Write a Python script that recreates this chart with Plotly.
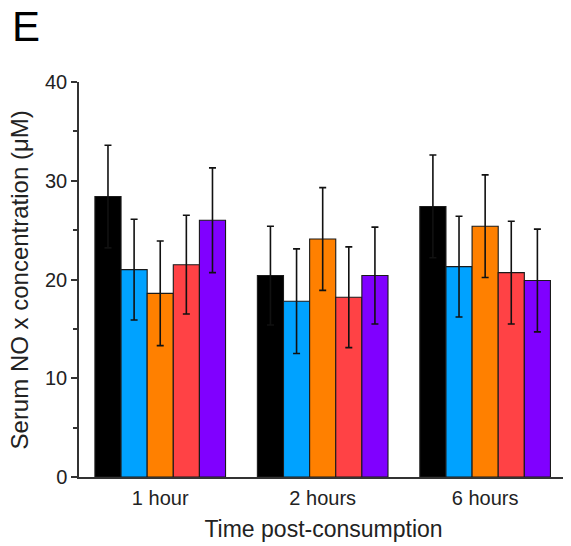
import plotly.graph_objects as go

categories = ["1 hour", "2 hours", "6 hours"]
series_names = ["Group 1", "Group 2", "Group 3", "Group 4", "Group 5"]
series_colors = ["#000000", "#00A2FF", "#FF8000", "#FF4245", "#8000FF"]

values_g1 = [28.4, 20.4, 27.4]
values_g2 = [21.0, 17.8, 21.3]
values_g3 = [18.6, 24.1, 25.4]
values_g4 = [21.5, 18.2, 20.7]
values_g5 = [26.0, 20.4, 19.9]

errors_g1 = [5.2, 5.0, 5.2]
errors_g2 = [5.1, 5.3, 5.1]
errors_g3 = [5.3, 5.2, 5.2]
errors_g4 = [5.0, 5.1, 5.2]
errors_g5 = [5.3, 4.9, 5.2]

all_values = [values_g1, values_g2, values_g3, values_g4, values_g5]
all_errors = [errors_g1, errors_g2, errors_g3, errors_g4, errors_g5]

y_ticks = [0, 10, 20, 30, 40]

FONT = "Liberation Sans, Arial, sans-serif"

fig = go.Figure()
for name, color, vals, errs in zip(series_names, series_colors, all_values, all_errors):
    fig.add_trace(go.Bar(
        x=categories, y=vals, name=name,
        marker=dict(color=color, line=dict(color="#1a1a1a", width=1.1)),
        error_y=dict(type="data", array=errs, visible=True,
                     color="#111111", thickness=1.6, width=3.5),
    ))

# page body has an 8px margin, so the figure is drawn from (8, 8)
fig.update_layout(
    width=563, height=538,
    margin=dict(l=71, r=3, t=74, b=69),
    paper_bgcolor="white", plot_bgcolor="white",
    barmode="group", bargap=0.196, bargroupgap=0,
    showlegend=False,
    font=dict(family=FONT, color="#222222"),
)

fig.update_xaxes(
    type="category", range=[-0.5, 2.51], automargin=False,
    showline=True, linecolor="#333333", linewidth=1.5,
    ticks="outside", ticklen=2, tickcolor="rgba(0,0,0,0)",
    tickfont=dict(size=20, family=FONT, color="#222222"),
    title=dict(text="Time post-consumption", font=dict(size=23, family=FONT, color="#222222"), standoff=13),
    showgrid=False, zeroline=False,
)

fig.update_yaxes(
    range=[0, 40], tickvals=y_ticks, automargin=False,
    showline=True, linecolor="#333333", linewidth=1.5,
    ticks="outside", ticklen=6, tickwidth=1.5, tickcolor="#333333",
    minor=dict(ticks="outside", ticklen=4, dtick=5, tickwidth=1.5, tickcolor="#333333", showgrid=False),
    tickfont=dict(size=20, family=FONT, color="#222222"),
    showgrid=False, zeroline=False,
)

fig.add_annotation(
    text="Serum NO x concentration (μM)", textangle=-90,
    xref="paper", yref="paper", x=-0.1207, y=0.5,
    xanchor="center", yanchor="middle", showarrow=False,
    font=dict(size=24, family=FONT, color="#222222"),
)

fig.add_annotation(
    text="E", xref="paper", yref="paper", x=-0.141, y=1.205,
    xanchor="left", yanchor="top", showarrow=False,
    font=dict(size=42, family=FONT, color="#000000"),
)

fig.write_html("out.html")
